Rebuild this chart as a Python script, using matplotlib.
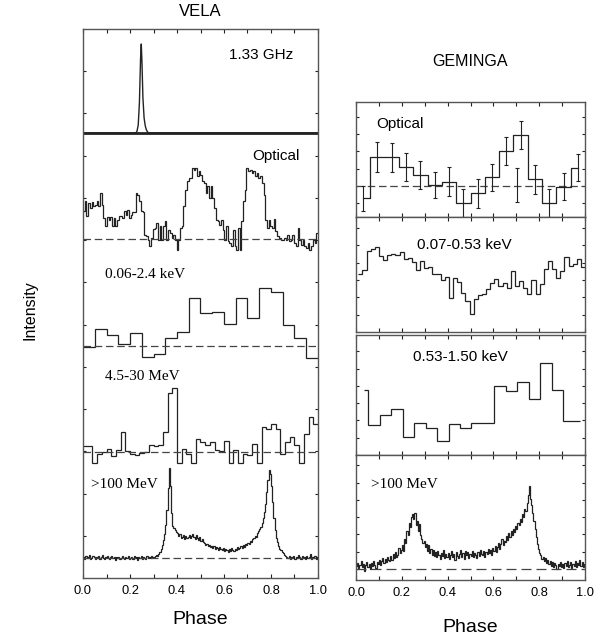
import matplotlib.pyplot as plt
import numpy as np
from matplotlib.ticker import MultipleLocator

SANS = 'Liberation Sans'
SERIF = 'Liberation Serif'
plt.rcParams['font.family'] = SANS

# ---------------- VELA (heights in relative units above each baseline) ----------------
radio_phase = [0.0, 0.225, 0.230, 0.235, 0.240, 0.245, 0.248, 0.251, 0.255, 0.260,
               0.265, 0.270, 0.275, 0.280, 1.0]
radio_val = [0, 0, 2, 8, 30, 75, 89, 70, 35, 15, 7, 3, 1, 0, 0]

vela_optical = [28, 38, 23, 36, 31, 37, 33, 34, 38, 33, 46, 34, 21, 13, 22, 19, 22, 13,
                21, 13, 19, 23, 23, 21, 28, 24, 29, 21, 24, 27, 27, 46, 44, 38, 28, 27,
                4, 3, -1, -7, 1, 10, 11, 16, -1, 13, -1, 13, 18, -1, 9, 6, 1, 4, -1, -11,
                -1, 11, 13, 33, 49, 58, 61, 61, 71, 69, 71, 63, 68, 64, 58, 56, 46, 53,
                41, 53, 41, 31, 19, 18, 14, 19, 9, -1, 13, -2, -4, -7, 9, -7, -11, 11,
                -11, 18, 38, 49, 71, 68, 69, 66, 68, 63, 66, 61, 63, 56, 44, 19, 11, 19,
                13, 11, 20, 8, 3, 1, -1, -1, 1, -1, 4, -2, -1, 4, -4, -7, 11, -1, -6, -1,
                -7, -9, -4, -11, -7, -1, -4, 6]

vela_xray = [-1, 17, 11, 2, 13, -11, -8, 8, 14, 48, 33, 34, 22, 48, 28, 58, 54, 21, 8, -12]

vela_mev = [6, 6, -11, -2, 0, 3, -4, 2, 20, 1, -2, -3, -1, 0, 7, 6, 7, 20, 59, 64,
            -11, 3, -2, -11, 13, 10, 7, 10, 2, 1, 11, -11, 2, -11, -2, -3, 8, -11, 25, 23,
            28, 23, -2, 10, 15, 7, -11, 18, 35, 28]

vela_gamma = [1, -1, 2, 0, 1, 3, -1, 0, 2, 1,
              -1, 1, 0, 2, -1, 1, 3, 0, -1, 1,
              2, 0, -1, 1, 2, 0, 1, -2, 1, 0,
              1, -1, 0, 2, 0, -1, 1, 0, 2, -1,
              0, 1, -1, 2, 0, 1, -2, 1, 0, 2,
              -1, 1, 0, -1, 2, 0, 1, 0, 2, 1,
              1, 2, 3, 2, 4, 6, 9, 13, 18, 24,
              33, 48, 70, 90, 72, 45, 32, 30, 28, 26,
              25, 22, 24, 20, 21, 23, 19, 22, 20, 21,
              23, 20, 22, 24, 21, 19, 23, 20, 18, 21,
              17, 19, 16, 15, 13, 14, 12, 13, 11, 12,
              10, 12, 9, 11, 10, 8, 11, 9, 8, 10,
              7, 9, 8, 6, 9, 7, 10, 8, 7, 9,
              8, 11, 9, 10, 12, 10, 13, 11, 14, 13,
              15, 14, 17, 16, 19, 20, 22, 21, 25, 27,
              29, 31, 35, 40, 46, 54, 66, 78, 88, 84,
              72, 56, 40, 28, 20, 16, 12, 9, 8, 6,
              5, 3, 2, 1, 0, 2, -1, 1, 0, 2,
              -1, 1, 0, 3, 1, -1, 2, 0, 1, -1,
              2, 0, 1, 4, -1, 1, 0, 2, -1, 1]

vela_labels = ['1.33 GHz', 'Optical', '0.06-2.4 keV', '4.5-30 MeV', '>100 MeV']
vela_base = [445, 339, 232, 126, 20]

# ---------------- GEMINGA ----------------
gem_opt_val = [-12.3, 29.3, 28.7, 19.3, 11, 1, 4.3, -16.7, -7.3, 8.7, 35, 51, 6.7, -16.7, -0.7, 18.3]
gem_opt_err = [12.8, 15, 14.2, 14, 14.2, 13.3, 14.5, 14.2, 14.2, 13.2, 13.8, 14.3, 14.5, 14.2, 13.7, 13.7]
gem_opt_extra = (0.703, 1.0, 16.7)

gem_soft = [57.7, 61.7, 81, 82.7, 85, 76, 71.7, 76.7, 77.7, 76.7, 80, 72.7, 74.3, 70.3,
            61.7, 71, 64.3, 65, 58.3, 57.7, 51.7, 55, 34.3, 54.3, 50.3, 39.3, 31, 17.7,
            32.7, 37, 38.3, 42.7, 49.3, 52.7, 46, 49.3, 44.3, 61, 46, 51, 44.3, 38.3,
            51.7, 38.3, 47.7, 62.7, 71, 62.7, 54.3, 61, 75, 66, 67.7, 72.7, 65]

gem_hard_edges = [0.033, 0.054, 0.104, 0.154, 0.204, 0.254, 0.304, 0.354, 0.404, 0.454,
                  0.504, 0.554, 0.604, 0.654, 0.704, 0.754, 0.804, 0.854, 0.904, 0.978]
gem_hard = [65, 30, 40, 45.7, 17.7, 31.7, 26.7, 14.3, 30.7, 27.3, 31.7, 31.7, 69, 63.7,
            72.7, 55.7, 92.3, 65, 34.3]

gem_gamma = [3, 6, 1, 4, 8, 2, 5, -2, 4, 7,
             2, 5, 0, 6, 3, 8, 4, 1, 7, 5,
             9, 4, 8, 11, 6, 10, 7, 12, 9, 8,
             13, 9, 15, 11, 17, 12, 14, 21, 16, 19,
             24, 18, 30, 26, 38, 34, 46, 42, 52, 55,
             50, 56, 44, 48, 38, 45, 34, 30, 26, 28,
             22, 25, 18, 24, 16, 20, 14, 19, 13, 17,
             12, 18, 14, 10, 16, 13, 19, 11, 15, 12,
             16, 10, 14, 18, 12, 15, 9, 17, 13, 11,
             15, 19, 12, 16, 10, 18, 14, 17, 11, 15,
             13, 18, 12, 16, 14, 11, 17, 13, 19, 15,
             14, 18, 12, 17, 15, 20, 16, 19, 14, 21,
             18, 23, 17, 22, 26, 20, 25, 30, 24, 28,
             27, 33, 29, 36, 32, 38, 34, 40, 37, 43,
             40, 46, 44, 50, 47, 55, 52, 60, 58, 66,
             74, 83, 70, 64, 56, 48, 40, 32, 25, 20,
             16, 14, 10, 12, 8, 11, 6, 9, 5, 8,
             3, 7, 2, 6, 4, 0, 5, 3, 7, 2,
             5, 1, 6, 3, 8, 2, 4, 7, 1, 5,
             3, 8, 2, 6, 4, 9, 3, 7, 2, 5]

gem_labels = ['Optical', '0.07-0.53 keV', '0.53-1.50 keV', '>100 MeV']

W, H = 607, 642
fig = plt.figure(figsize=(W / 100, H / 100), dpi=100)
LC = '#222222'
SC = '#555555'


def px_axes(left, top, right, bottom):
    return fig.add_axes([left / W, 1 - bottom / H, (right - left) / W, (bottom - top) / H])


def style(ax, labels):
    for s in ax.spines.values():
        s.set_color(SC)
        s.set_linewidth(1.0)
    ax.set_xlim(0, 1)
    ax.xaxis.set_major_locator(MultipleLocator(0.2))
    ax.xaxis.set_minor_locator(MultipleLocator(0.1))
    ax.tick_params(which='both', direction='in', top=True, right=True, length=3,
                   width=0.8, color=LC, labelsize=9.3, pad=5)
    ax.tick_params(axis='y', which='both', labelleft=False, length=2.5)
    if labels:
        ax.xaxis.set_major_formatter(plt.FuncFormatter(lambda v, p: f'{v:.1f}'))
    else:
        ax.tick_params(axis='x', labelbottom=False)


# ---- Vela stack ----
ax = px_axes(83, 29, 318, 578)
style(ax, True)
ax.set_ylim(0, 549)
ax.set_yticks(np.linspace(0, 549, 14)[1:-1])

b = vela_base
ax.hlines(b[0], 0, 1, color=LC, lw=2.0)
ax.plot(radio_phase, np.array(radio_val) + b[0], color=LC, lw=1.0)
for base in b[1:]:
    ax.hlines(base, 0, 1, color='#444444', lw=0.9, linestyles=(0, (6, 3)))

for vals, base in zip([vela_optical, vela_xray, vela_mev, vela_gamma], b[1:]):
    vals = np.array(vals, dtype=float)
    edges = np.linspace(0, 1, len(vals) + 1)
    ax.stairs(vals + base, edges, baseline=None, color=LC, lw=0.9)

ax.text(0.76, 523, vela_labels[0], fontsize=11, ha='center', va='center')
ax.text(0.82, 422, vela_labels[1], fontsize=11, ha='center', va='center')
ax.text(0.093, 304, vela_labels[2], fontsize=11, ha='left', va='center', family=SERIF)
ax.text(0.093, 201, vela_labels[3], fontsize=11, ha='left', va='center', family=SERIF)
ax.text(0.034, 94, vela_labels[4], fontsize=11, ha='left', va='center', family=SERIF)

# ---- Geminga panels ----
L, R = 356, 585
a1 = px_axes(L, 102, R, 217)
a2 = px_axes(L, 217, R, 332)
a3 = px_axes(L, 335, R, 455)
a4 = px_axes(L, 455, R, 580)
for a in (a1, a2, a3):
    style(a, False)
style(a4, True)
for a in (a1, a2, a3, a4):
    a.yaxis.set_major_locator(MultipleLocator(17.3))

# optical
a1.set_ylim(-31, 84)
centers = np.arange(16) / 16 + 1 / 32
a1.hlines(0, 0, 1, color='#444444', lw=0.9, linestyles=(0, (6, 3)))
a1.step(centers, gem_opt_val, where='mid', color=LC, lw=0.9)
a1.errorbar(centers, gem_opt_val, yerr=gem_opt_err, fmt='none', ecolor=LC,
            elinewidth=0.8, capsize=1.5, capthick=0.8)
a1.errorbar([gem_opt_extra[0]], [gem_opt_extra[1]], yerr=[gem_opt_extra[2]], fmt='none',
            ecolor=LC, elinewidth=0.8, capsize=1.5, capthick=0.8)
a1.text(0.09, 62, gem_labels[0], fontsize=11, ha='left', va='center')

# soft x-ray
a2.set_ylim(0, 115)
a2.stairs(gem_soft, np.linspace(0.01, 1, len(gem_soft) + 1), baseline=None, color=LC, lw=0.9)
a2.text(0.265, 87, gem_labels[1], fontsize=11, ha='left', va='center')

# hard x-ray
a3.set_ylim(0, 120)
a3.stairs(gem_hard, gem_hard_edges, baseline=None, color=LC, lw=0.9)
a3.text(0.25, 98, gem_labels[2], fontsize=11, ha='left', va='center')

# gamma
a4.set_ylim(-11, 114)
a4.hlines(0, 0, 1, color='#444444', lw=0.9, linestyles=(0, (8, 4)))
a4.stairs(np.array(gem_gamma, dtype=float), np.linspace(0, 1, len(gem_gamma) + 1),
          baseline=None, color=LC, lw=0.9)
a4.text(0.065, 84, gem_labels[3], fontsize=11, ha='left', va='center', family=SERIF)

# ---- figure texts ----
fig.text(200 / W, 1 - 12 / H, 'VELA', fontsize=12, ha='center', va='center')
fig.text(470 / W, 1 - 62 / H, 'GEMINGA', fontsize=11.5, ha='center', va='center')
fig.text(30 / W, 1 - 310 / H, 'Intensity', fontsize=11.5, rotation=90, ha='center', va='center')
fig.text(200 / W, 1 - 620 / H, 'Phase', fontsize=14, ha='center', va='center')
fig.text(470 / W, 1 - 628 / H, 'Phase', fontsize=14, ha='center', va='center')

fig.savefig('out.png', dpi=100)
